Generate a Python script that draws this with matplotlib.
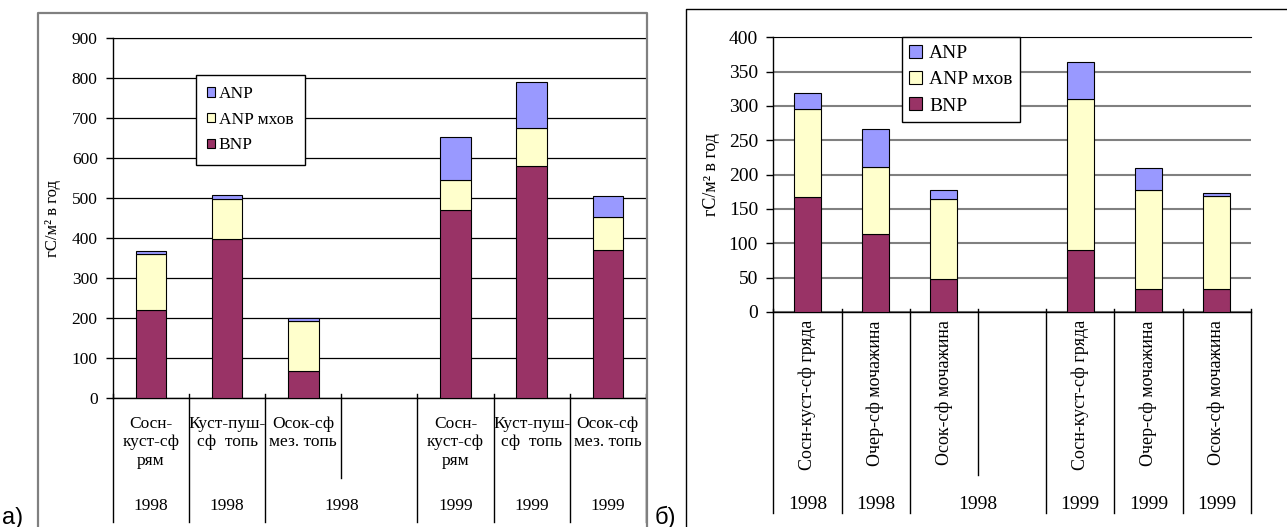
import numpy as np
import matplotlib.pyplot as plt
from matplotlib.lines import Line2D
from matplotlib.transforms import blended_transform_factory

plt.rcParams['font.family'] = ['Liberation Serif', 'DejaVu Serif']

# ---- data: panel a ----
cats_a = ["Сосн-\nкуст-сф\nрям", "Куст-пуш-\nсф  топь", "Осок-сф\nмез. топь", "",
          "Сосн-\nкуст-сф\nрям", "Куст-пуш-\nсф  топь", "Осок-сф\nмез. топь"]
years_a = ["1998", "1998", "1998", "1998", "1999", "1999", "1999"]
bnp_a = [220, 398, 68, None, 470, 581, 370]
moss_a = [142, 100, 126, None, 77, 96, 83]
anp_a = [6, 11, 6, None, 107, 113, 52]

# ---- data: panel b ----
cats_b = ["Сосн-куст-сф гряда", "Очер-сф мочажина", "Осок-сф мочажина", "",
          "Сосн-куст-сф гряда", "Очер-сф мочажина", "Осок-сф мочажина"]
years_b = ["1998", "1998", "1998", "1998", "1999", "1999", "1999"]
bnp_b = [168, 113, 48, None, 91, 34, 34]
moss_b = [127, 98, 117, None, 219, 144, 135]
anp_b = [24, 56, 13, None, 54, 31, 5]

C_BNP = '#993366'
C_MOSS = '#FFFFCC'
C_ANP = '#9999FF'

W, H = 1287, 527
fig = plt.figure(figsize=(W / 100, H / 100), dpi=100)


def px_rect(x0, y0, x1, y1):
    # pixel box -> figure fraction [left, bottom, width, height]
    return [x0 / W, 1 - y1 / H, (x1 - x0) / W, (y1 - y0) / H]


def fig_line(xs, ys, **kw):
    fig.add_artist(Line2D([x / W for x in xs], [1 - y / H for y in ys],
                          transform=fig.transFigure, **kw))


def draw_panel(ax, cats, years, bnp, moss, anp, ymax, ystep, grid_kw,
               tick_fs, lab_fs, year_fs, rotate, lab_y, year_y, sep_end, sep_short):
    x = np.arange(len(cats))
    keep = [i for i in x if bnp[i] is not None]
    xb = x[keep]
    b = np.array([bnp[i] for i in keep], float)
    m = np.array([moss[i] for i in keep], float)
    a = np.array([anp[i] for i in keep], float)
    h1 = ax.bar(xb, b, 0.4, color=C_BNP, edgecolor='black', lw=0.8, zorder=3)
    h2 = ax.bar(xb, m, 0.4, bottom=b, color=C_MOSS, edgecolor='black', lw=0.8, zorder=3)
    h3 = ax.bar(xb, a, 0.4, bottom=b + m, color=C_ANP, edgecolor='black', lw=0.8, zorder=3)

    ax.set_xlim(-0.5, len(cats) - 0.5)
    ax.set_ylim(0, ymax)
    ax.set_yticks(np.arange(0, ymax + 1, ystep))
    ax.yaxis.grid(True, zorder=0, **grid_kw)
    ax.set_axisbelow(True)
    ax.tick_params(axis='y', labelsize=tick_fs, length=5, width=1, direction='out', pad=6)
    ax.set_xticks([])
    ax.spines['right'].set_visible(False)
    ax.spines['top'].set_color(grid_kw['color'])
    ax.spines['left'].set_linewidth(1)
    ax.spines['bottom'].set_linewidth(1)

    tr = blended_transform_factory(ax.transData, ax.transAxes)
    # separators between categories
    for k in range(len(cats) + 1):
        end = sep_short if (k < len(cats) and cats[k] == "") else sep_end
        ax.plot([k - 0.5, k - 0.5], [0.012, end], color='black', lw=1,
                transform=tr, clip_on=False)
    # first level labels
    for i, c in enumerate(cats):
        if not c:
            continue
        if rotate:
            ax.text(i, lab_y, c, rotation=90, ha='center', va='top',
                    fontsize=lab_fs, transform=tr)
        else:
            ax.text(i, lab_y, c, ha='center', va='top', fontsize=lab_fs,
                    linespacing=1.2, transform=tr)
    # year labels (empty category joins the previous one)
    groups = []
    for i, yv in enumerate(years):
        if i > 0 and cats[i] == "":
            groups[-1][1] = i
        else:
            groups.append([i, i, yv])
    for g0, g1, yv in groups:
        ax.text((g0 + g1) / 2, year_y, yv, ha='center', va='center',
                fontsize=year_fs, transform=tr)
    return h1, h2, h3


# ---------- panel a ----------
ax1 = fig.add_axes(px_rect(113, 38.3, 645.8, 398.3))
hb, hm, ha_ = draw_panel(ax1, cats_a, years_a, bnp_a, moss_a, anp_a, 900, 100,
                         dict(color='black', lw=0.9), 12.5, 12.5, 12.5, False,
                         -0.049, -0.299, -0.344, -0.222)
ax1.set_ylabel("гС/м² в год", fontsize=12, labelpad=8)
leg1 = ax1.legend([ha_, hm, hb], ["ANP", "ANP мхов", "BNP"], loc='upper left',
                  bbox_to_anchor=(0.156, 0.898), borderaxespad=0, fontsize=12.5,
                  fancybox=False, framealpha=1, edgecolor='black',
                  handlelength=0.45, handleheight=0.45, handletextpad=0.2,
                  labelspacing=0.55, borderpad=0.65)
leg1.get_frame().set_linewidth(1)

# ---------- panel b ----------
ax2 = fig.add_axes(px_rect(773.3, 37.3, 1250.7, 312))
hb, hm, ha_ = draw_panel(ax2, cats_b, years_b, bnp_b, moss_b, anp_b, 400, 50,
                         dict(color='#808080', lw=1.5), 14, 13, 14, True,
                         -0.03, -0.70, -0.732, -0.594)
ax2.spines['top'].set_color('black')
ax2.set_ylabel("гС/м² в год", fontsize=13, labelpad=6)
leg2 = ax2.legend([ha_, hm, hb], ["ANP", "ANP мхов", "BNP"], loc='upper left',
                  bbox_to_anchor=(0.269, 1.0), borderaxespad=0, fontsize=14,
                  fancybox=False, framealpha=1, edgecolor='black',
                  handlelength=0.65, handleheight=0.65, handletextpad=0.35,
                  labelspacing=0.45, borderpad=0.4)
leg2.get_frame().set_linewidth(1)

# chart frames
fig_line([37.7, 37.7, 646.7, 646.7], [530, 13, 13, 530], color='#808080', lw=1.6)
fig_line([686, 686, 1290], [530, 9, 9], color='black', lw=1)

fig.text(2 / W, 1 - 524 / H, "а)", fontsize=17, family='Liberation Sans', va='baseline')
fig.text(655 / W, 1 - 524 / H, "б)", fontsize=17, family='Liberation Sans', va='baseline')

fig.savefig("out.png", dpi=100)
